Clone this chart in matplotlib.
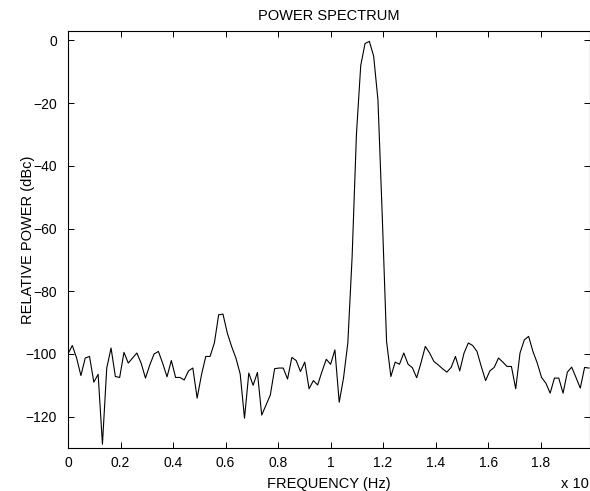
import numpy as np
import matplotlib
matplotlib.use("Agg")
from matplotlib import pyplot as plt

# bin spacing (122 bins from 0 to ~1.98)
df = 1 / 61.0
power_db = [
    -100.0, -97.3, -101.3, -106.9, -101.3, -100.8, -109.0, -106.5, -128.8, -104.5,
    -98.1, -107.2, -107.5, -99.5, -102.9, -101.3, -99.7, -103.0, -107.7, -103.5,
    -100.0, -99.2, -103.0, -107.3, -102.1, -107.5, -107.5, -108.3, -105.4, -104.5,
    -114.1, -106.7, -100.8, -100.8, -96.5, -87.5, -87.3, -93.3, -97.6, -101.3,
    -106.4, -120.5, -106.1, -110.0, -105.9, -119.5, -116.3, -113.1, -104.7, -104.5,
    -104.5, -108.0, -101.1, -102.1, -105.6, -102.6, -111.1, -108.5, -109.9, -105.6,
    -101.7, -103.3, -98.7, -115.4, -107.7, -96.5, -69.0, -30.0, -8.0, -1.0,
    -0.3, -5.0, -19.0, -56.0, -96.0, -107.2, -102.6, -103.3, -99.7, -103.3,
    -104.4, -107.6, -102.8, -97.6, -99.7, -102.4, -103.5, -104.7, -105.8, -104.3,
    -100.8, -105.4, -99.7, -96.5, -97.3, -99.2, -104.0, -108.5, -105.4, -104.3,
    -101.3, -102.6, -104.0, -104.0, -111.1, -99.7, -95.5, -94.4, -99.2, -102.9,
    -107.5, -109.3, -112.5, -107.7, -107.7, -112.5, -105.8, -104.2, -107.5, -110.9,
    -104.3, -104.5,
]
freq = np.arange(len(power_db)) * df

x_ticks = [0, 0.2, 0.4, 0.6, 0.8, 1.0, 1.2, 1.4, 1.6, 1.8]
x_labels = ["0", "0.2", "0.4", "0.6", "0.8", "1", "1.2", "1.4", "1.6", "1.8"]
y_ticks = [0, -20, -40, -60, -80, -100, -120]

plt.rcParams['font.family'] = ['Liberation Sans', 'DejaVu Sans']

fig = plt.figure(figsize=(5.9, 4.91), dpi=100)
ax = fig.add_axes([68 / 590, 43 / 491, 522 / 590, 417 / 491])

ax.plot(freq, power_db, '-', color='black', linewidth=0.8)

ax.set_xlim(0, 522 / 262.6)
ax.set_ylim(-130, 3)
ax.set_xticks(x_ticks)
ax.set_xticklabels(x_labels)
ax.set_yticks(y_ticks)
ax.tick_params(direction='in', length=4, width=0.7, top=True, right=True,
               labelsize=10, colors='black')
ax.tick_params(axis='y', pad=8)
ax.tick_params(axis='x', pad=6)
for sp in ax.spines.values():
    sp.set_linewidth(0.8)
    sp.set_color('black')

ax.set_title('POWER SPECTRUM', fontsize=10.5, pad=8)
ax.set_xlabel('FREQUENCY (Hz)', fontsize=10.5)
ax.xaxis.set_label_coords(0.5, -0.07)
ax.set_ylabel('RELATIVE POWER (dBc)', fontsize=10.5)
ax.yaxis.set_label_coords(-0.064, 0.5)
fig.text(575 / 590, 1 - 484 / 491, 'x 10', fontsize=10.5, ha='center', va='center')

fig.savefig('out.png', dpi=100)
